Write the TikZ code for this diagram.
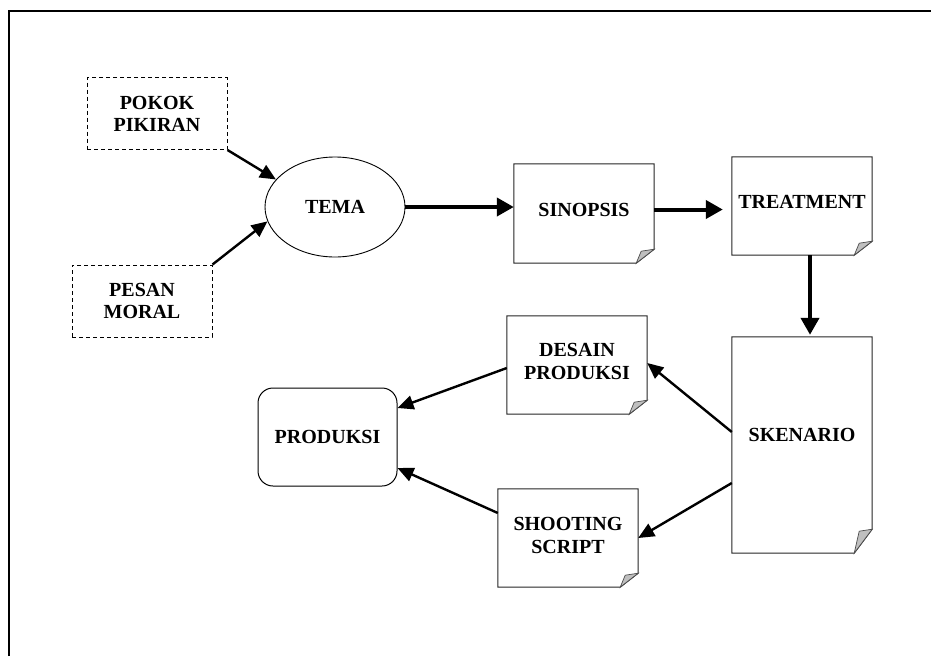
\documentclass[tikz,border=0pt]{standalone}
\usepackage{fontspec}
\setmainfont{Liberation Serif}
\usetikzlibrary{arrows.meta,shapes.geometric,calc}

% outline of a sheet with a curled bottom-right corner
% #1 node name, #2 height of the cut on the right edge
\newcommand{\foldedsheet}[2]{%
  \draw[sheet] (#1.north west) -- (#1.north east) -- ([yshift=#2pt]#1.south east)
    -- ([xshift=-18pt]#1.south east) -- (#1.south west) -- cycle;
  \filldraw[flap] ([xshift=-18pt]#1.south east) -- ([yshift=#2pt]#1.south east)
    -- ([xshift=-13pt,yshift=#2pt-2pt]#1.south east) -- cycle;
}

\begin{document}
\begin{tikzpicture}[x=1pt,y=-1pt,
  txt/.style={font=\bfseries\fontsize{20}{23}\selectfont, align=center, inner sep=0pt},
  idea/.style={txt, draw, dash pattern=on 4pt off 3pt, line width=1pt,
    minimum width=140pt, minimum height=72pt, font=\bfseries\fontsize{20}{22}\selectfont},
  topic/.style={txt, draw, ellipse, line width=0.9pt, minimum width=140pt, minimum height=100pt},
  sheetbox/.style={draw=none, minimum width=140pt, inner sep=0pt},
  sheet/.style={draw=black!85, line width=1pt, fill=white},
  flap/.style={draw=black!70, fill=black!25, line width=0.7pt},
  final/.style={txt, draw, rounded corners=15pt, line width=1pt,
    minimum width=139pt, minimum height=98pt},
  bigarrow/.style={line width=4pt, -{Triangle[length=17pt,width=18pt]}},
  arrow/.style={line width=2.4pt, -{Triangle[length=16pt,width=14pt]}}
]
\useasboundingbox (0,0) rectangle (931,656);

% frame
\draw[line width=2pt] (9,656) -- (9,11) -- (931,11);

% sources of the theme
\node[idea] (pokok) at (157,113.5) {POKOK\\PIKIRAN};
\node[idea] (pesan) at (142,301) {PESAN\\MORAL};
\node[topic] (tema) at (335,207) {TEMA};

% sheets
\node[sheetbox, minimum height=99pt]  (sinopsis)  at (584,213.5) {};
\node[sheetbox, minimum height=98pt]  (treatment) at (802,206) {};
\node[sheetbox, minimum height=216pt] (skenario)  at (802,445) {};
\node[sheetbox, minimum height=98pt]  (desain)    at (577,365) {};
\node[sheetbox, minimum height=98pt]  (shooting)  at (568,538) {};

\foldedsheet{sinopsis}{14}
\foldedsheet{treatment}{14}
\foldedsheet{skenario}{24}
\foldedsheet{desain}{14}
\foldedsheet{shooting}{14}

\node[txt] (sinopsis-t)  at ([yshift=3.5]sinopsis.center)  {SINOPSIS};
\node[txt] (treatment-t) at ([yshift=4]treatment.center)   {TREATMENT};
\node[txt] (skenario-t)  at ([yshift=10]skenario.center)   {SKENARIO};
\node[txt] (desain-t)    at ([yshift=3.5]desain.center)    {DESAIN\\PRODUKSI};
\node[txt] (shooting-t)  at ([yshift=3]shooting.center)    {SHOOTING\\SCRIPT};

\node[final] (produksi) at (327.5,437) {PRODUKSI};

% connectors
\draw[arrow] (pokok.south east) -- (tema.155);
\draw[arrow] (pesan.north east) -- (tema.192);
\draw[bigarrow] (tema.east) -- (tema.east -| sinopsis.west);
\draw[bigarrow, shorten >=9pt] ([yshift=4]sinopsis.east) -- ([yshift=4]sinopsis.east -| treatment.west);
\draw[bigarrow, shorten >=2pt] ([xshift=8]treatment.south) -- ([xshift=8]skenario.north);
\draw[arrow] ([yshift=13]skenario.west) -- ([yshift=2]desain.east);
\draw[arrow] ([yshift=-38]skenario.west) -- (shooting.east);
\draw[arrow] ([yshift=-3]desain.west) -- ([yshift=29]produksi.east);
\draw[arrow] ([yshift=25]shooting.west) -- ([yshift=-31]produksi.east);
\end{tikzpicture}
\end{document}
